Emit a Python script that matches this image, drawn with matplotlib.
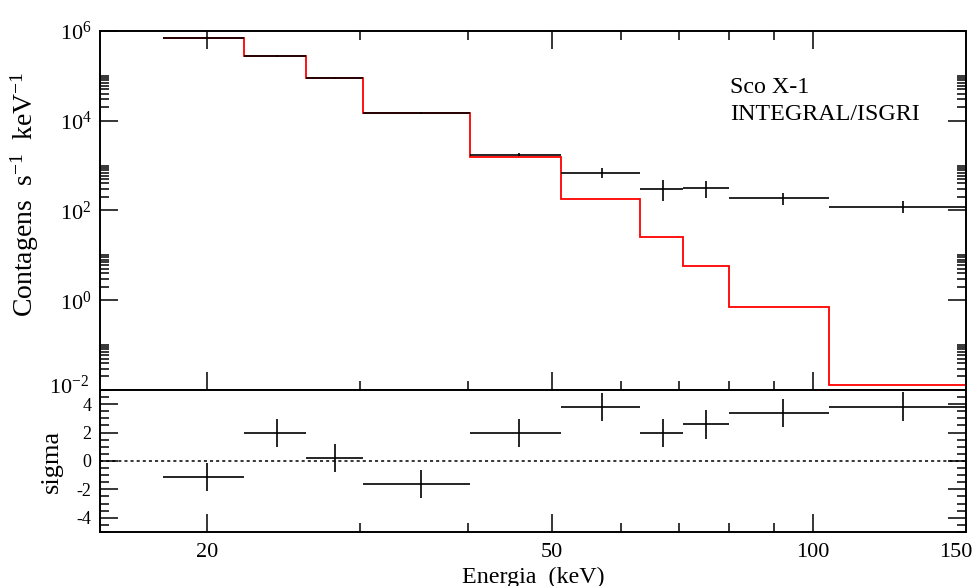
import matplotlib
matplotlib.use("Agg")
import matplotlib.pyplot as plt
import matplotlib.transforms as mtransforms
import numpy as np

plt.rcParams['font.family'] = 'Liberation Serif'
plt.rcParams['mathtext.fontset'] = 'custom'
plt.rcParams['mathtext.rm'] = 'Liberation Serif'
plt.rcParams['mathtext.it'] = 'Liberation Serif:italic'
plt.rcParams['axes.unicode_minus'] = False

# === Data ===
bin_edges = [17.8, 22.1, 26.0, 30.3, 40.2, 51.2, 63.2, 70.8, 80.0, 104.4, 150.0]
energy = [20.0, 24.1, 28.1, 35.3, 45.8, 57.1, 67.2, 75.3, 92.2, 126.8]
counts = [6.9e5, 2.8e5, 8.8e4, 1.5e4, 1.74e3, 677, 298, 323, 194, 122]
counts_lo = [6.6e5, 2.7e5, 8.5e4, 1.45e4, 1.6e3, 525, 165, 190, 130, 90]
counts_hi = [7.2e5, 2.9e5, 9.1e4, 1.55e4, 1.9e3, 871, 480, 465, 250, 164]
model = [6.9e5, 2.75e5, 8.8e4, 1.5e4, 1.58e3, 179, 26.2, 5.93, 0.713, 0.013]
sigma = [-1.12, 1.95, 0.19, -1.64, 1.95, 3.8, 1.95, 2.57, 3.4, 3.83]
sigma_err = [1.0, 1.0, 1.0, 1.0, 1.0, 1.0, 1.0, 1.0, 1.0, 1.0]

x_major_labels = ['20', '50', '100']
y_top_labels = ['$10^{-2}$', '$10^{0}$', '$10^{2}$', '$10^{4}$', '$10^{6}$']

e = np.array(energy)
edges = np.array(bin_edges)
xerr = [e - edges[:-1], edges[1:] - e]
c = np.array(counts)
yerr = [c - np.array(counts_lo), np.array(counts_hi) - c]

fig = plt.figure(figsize=(9.78, 5.86), dpi=100)
ax1 = fig.add_axes([0.1022, 0.3345, 0.8855, 0.6126])
ax2 = fig.add_axes([0.1022, 0.0922, 0.8855, 0.2423], sharex=ax1)

# --- top panel: spectrum + model ---
ax1.stairs(model, edges, baseline=None, color='red', lw=1.3)
ax1.errorbar(e, c, xerr=xerr, yerr=yerr, fmt='none', ecolor='black',
             elinewidth=1.2, capsize=0)
ax1.set_xscale('log')
ax1.set_yscale('log')
ax1.set_xlim(15.06, 150)
ax1.set_ylim(1e-2, 1e6)

ax1.set_yticks([1e-2, 1, 1e2, 1e4, 1e6])
ax1.set_yticklabels(y_top_labels)
ymin = []
for k in [-2, 0, 2, 4]:
    ymin += [m * 10.0 ** k for m in range(2, 11)]
ax1.set_yticks(ymin, minor=True)
ax1.set_yticklabels([], minor=True)
ax1.tick_params(axis='y', which='major', direction='in', length=13, width=1.1,
                left=True, right=True, labelsize=16, pad=6)
ax1.tick_params(axis='y', which='minor', direction='in', length=6.5, width=1.1,
                left=True, right=True)

ax1.set_xticks([100])
ax1.set_xticks([20, 30, 40, 50, 60, 70, 80, 90], minor=True)
ax1.tick_params(axis='x', which='major', direction='in', length=13, width=1.1,
                top=True, bottom=True, labelbottom=False)
ax1.tick_params(axis='x', which='minor', direction='in', length=6.5, width=1.1,
                top=True, bottom=True, labelbottom=False)
ax1.set_xticklabels([], minor=True)

ax1.set_ylabel('Contagens  s$^{-1}$  keV$^{-1}$', fontsize=20)
ax1.yaxis.set_label_coords(-0.068, 0.546)
ax1.text(0.7275, 0.844, 'Sco X-1', transform=ax1.transAxes, fontsize=17.3,
         va='center', ha='left')
ax1.text(0.7275, 0.767, 'INTEGRAL/ISGRI', transform=ax1.transAxes,
         fontsize=17.3, va='center', ha='left')

# --- bottom panel: residuals ---
ax2.axhline(0, color='black', lw=1.1, ls=(0, (2, 2)))
ax2.errorbar(e, sigma, xerr=xerr, yerr=sigma_err, fmt='none', ecolor='black',
             elinewidth=1.2, capsize=0)
ax2.set_ylim(-5, 5)
ax2.set_yticks([-4, -2, 0, 2, 4])
ax2.set_yticks(np.arange(-5, 5.01, 0.5), minor=True)
ax2.tick_params(axis='y', which='major', direction='in', length=13, width=1.1,
                left=True, right=True, labelsize=13, pad=6)
ax2.tick_params(axis='y', which='minor', direction='in', length=6.5, width=1.1,
                left=True, right=True)

ax2.set_xticks([20, 50, 100])
ax2.set_xticklabels(x_major_labels)
ax2.set_xticks([30, 40, 60, 70, 80, 90], minor=True)
ax2.set_xticklabels([], minor=True)
ax2.tick_params(axis='x', which='major', direction='in', length=13, width=1.1,
                top=False, bottom=True, labelsize=16, pad=8)
ax2.tick_params(axis='x', which='minor', direction='in', length=6.5, width=1.1,
                top=False, bottom=True)
ax2.set_xlim(15.06, 150)
ax2.annotate('150', xy=(150, 0), xycoords=('data', 'axes fraction'),
             xytext=(-10, -11), textcoords='offset pixels', ha='center',
             va='top', fontsize=16)

ax2.set_ylabel('sigma', fontsize=19)
ax2.yaxis.set_label_coords(-0.043, 0.5)
fig.text(533 / 978, 1 - 577 / 586, 'Energia  (keV)', ha='center', va='center',
         fontsize=17.3)

for ax in (ax1, ax2):
    for sp in ax.spines.values():
        sp.set_linewidth(1.4)

# nudge the lowest decade label up a little so it clears the "4" below
lbl = ax1.get_yticklabels()[0]
lbl.set_transform(lbl.get_transform() +
                  mtransforms.ScaledTranslation(-2 / 72, 4 / 72,
                                                fig.dpi_scale_trans))

fig.savefig('out.png', dpi=100)
